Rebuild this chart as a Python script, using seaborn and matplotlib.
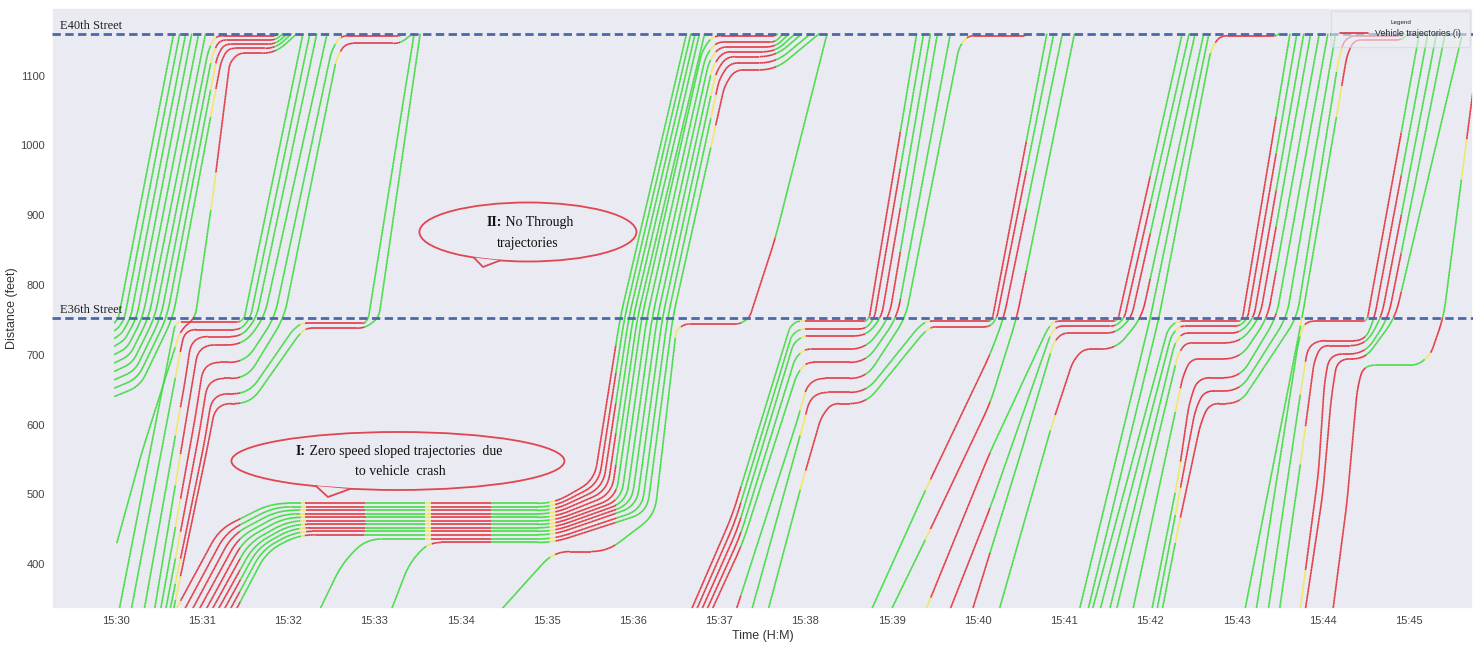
import numpy as np
import matplotlib
matplotlib.use("Agg")
import matplotlib.pyplot as plt
import seaborn as sns
from matplotlib.collections import LineCollection
from matplotlib.lines import Line2D
from matplotlib.patches import Ellipse, Polygon

# time is minutes after 15:30, distance in feet
E36 = 753
E40 = 1160

TIME_TICKS = list(range(16))
TIME_LABELS = ["15:30", "15:31", "15:32", "15:33", "15:34", "15:35", "15:36", "15:37",
               "15:38", "15:39", "15:40", "15:41", "15:42", "15:43", "15:44", "15:45"]
DIST_TICKS = [400, 500, 600, 700, 800, 900, 1000, 1100]

# signal phases (minutes after 15:30)
E36_GREEN = [-0.75, 1.44, 2.89, 4.35, 5.80, 7.25, 8.70, 10.14, 11.59, 13.04, 14.49]
E36_YELLOW = [0.69, 2.14, 3.59, 5.04, 6.49, 7.94, 9.39, 10.84, 12.29, 13.74, 15.19]
E40_GREEN = [-0.75, 1.85, 3.30, 4.75, 6.20, 7.65, 9.10, 10.56, 12.00, 13.46, 14.91]
E40_YELLOW = [1.10, 2.55, 4.00, 5.45, 6.90, 8.35, 9.81, 11.26, 12.70, 14.16, 15.61]
YELLOW_LEN = 0.06
# spots where the trajectories stay green whatever the signal (t0, t1, d0, d1)
GREEN_ZONES = [(2.30, 2.92, 330, 439), (11.10, 11.62, 330, 560),
               (1.40, 1.86, 753, 1125), (2.85, 3.31, 753, 1125), (5.75, 6.21, 753, 1125)]

# ── trajectories: corner points (t, d) ───────────────────────────────────────
FAN_1530 = [
    [(-0.02, 745), (0.03, 753), (0.67, 1160)],
    [(-0.02, 734), (0.04, 740), (0.10, 753), (0.74, 1160)],
    [(-0.02, 723), (0.07, 731), (0.17, 753), (0.81, 1160)],
    [(-0.02, 712), (0.10, 721), (0.24, 753), (0.88, 1160)],
    [(-0.02, 700), (0.13, 710), (0.31, 753), (0.96, 1160)],
    [(-0.02, 688), (0.16, 699), (0.38, 753), (1.04, 1160)],
    [(-0.02, 676), (0.19, 688), (0.45, 753), (1.07, 1135), (1.15, 1157), (1.85, 1157), (1.89, 1160)],
    [(-0.02, 664), (0.22, 677), (0.52, 753), (1.12, 1130), (1.20, 1151), (1.85, 1151), (1.94, 1160)],
    [(-0.02, 652), (0.25, 666), (0.59, 753), (1.17, 1125), (1.25, 1145), (1.85, 1145), (1.99, 1160)],
    [(-0.02, 640), (0.28, 655), (0.66, 753), (1.22, 1120), (1.30, 1139), (1.85, 1139), (2.04, 1160)],
    [(0.01, 430), (0.30, 560), (0.75, 735), (0.92, 753), (1.13, 932), (1.32, 1118), (1.42, 1132),
     (1.85, 1132), (2.10, 1160)],
]

QUEUE_1531 = [
    [(0.04, 336), (0.68, 740), (0.72, 747), (1.44, 747), (1.49, 753), (2.17, 1160)],
    [(0.18, 336), (0.74, 700), (0.80, 736), (1.45, 736), (1.56, 753), (2.25, 1160)],
    [(0.33, 336), (0.80, 660), (0.88, 726), (1.46, 726), (1.63, 753), (2.33, 1160)],
    [(0.45, 336), (0.86, 640), (0.96, 714), (1.48, 714), (1.72, 753), (2.45, 1160)],
    [(0.52, 336), (0.92, 610), (1.02, 689), (1.50, 689), (1.84, 753), (2.50, 1135), (2.60, 1157),
     (3.30, 1157), (3.36, 1160)],
    [(0.58, 336), (0.97, 590), (1.07, 666), (1.52, 666), (1.95, 753), (2.56, 1125), (2.66, 1146),
     (3.30, 1146), (3.44, 1160)],
    [(0.63, 336), (1.02, 570), (1.12, 644), (1.54, 644), (2.05, 735), (2.15, 745), (2.89, 745),
     (2.93, 753), (3.46, 1160)],
    [(0.67, 336), (1.05, 560), (1.16, 630), (1.56, 630), (2.12, 728), (2.21, 738), (2.89, 738),
     (3.05, 753), (3.53, 1160)],
]

CRASH = [
    [(0.70, 336), (1.20, 450), (1.80, 487), (5.08, 487), (5.55, 520), (5.85, 753), (6.62, 1160)],
    [(0.80, 336), (1.28, 446), (1.84, 482), (5.08, 482), (5.60, 515), (5.90, 753), (6.67, 1160)],
    [(0.89, 336), (1.35, 442), (1.88, 477), (5.08, 477), (5.65, 510), (5.95, 753), (6.72, 1160)],
    [(0.97, 336), (1.42, 438), (1.92, 472), (5.08, 472), (5.70, 505), (6.00, 753), (6.77, 1160)],
    [(1.05, 336), (1.48, 434), (1.96, 467), (5.08, 467), (5.75, 500), (6.05, 753), (6.83, 1160)],
    [(1.12, 336), (1.54, 430), (2.00, 462), (5.08, 462), (5.80, 495), (6.10, 753), (6.80, 1135),
     (6.92, 1157), (7.65, 1157), (7.68, 1160)],
    [(1.19, 336), (1.60, 427), (2.03, 457), (5.08, 457), (5.86, 492), (6.16, 753), (6.84, 1127),
     (6.96, 1148), (7.65, 1148), (7.74, 1160)],
    [(1.26, 336), (1.65, 424), (2.06, 452), (5.08, 452), (5.92, 489), (6.22, 753), (6.88, 1120),
     (7.00, 1141), (7.65, 1141), (7.81, 1160)],
    [(1.33, 336), (1.70, 421), (2.09, 447), (5.08, 447), (5.98, 486), (6.28, 753), (6.92, 1112),
     (7.04, 1134), (7.65, 1134), (7.88, 1160)],
    [(1.40, 336), (1.75, 418), (2.12, 442), (5.08, 442), (6.04, 483), (6.34, 753), (6.96, 1104),
     (7.08, 1127), (7.65, 1127), (7.96, 1160)],
    [(2.37, 336), (2.62, 400), (2.90, 436), (5.08, 436), (6.10, 478), (6.40, 753), (7.00, 1095),
     (7.12, 1118), (7.65, 1118), (8.06, 1160)],
    [(3.20, 336), (3.40, 400), (3.62, 431), (5.08, 431), (6.16, 474), (6.46, 753), (7.06, 1085),
     (7.18, 1108), (7.65, 1108), (8.16, 1160)],
    [(4.48, 336), (4.80, 380), (5.08, 418), (5.70, 418), (6.25, 470), (6.50, 735), (6.60, 744),
     (7.24, 744), (7.35, 753), (7.65, 867), (8.25, 1160)],
]

QUEUE_1538 = [
    [(6.68, 336), (7.15, 470), (7.82, 740), (7.90, 748), (8.70, 748), (8.74, 753), (9.29, 1160)],
    [(6.74, 336), (7.18, 460), (7.84, 728), (7.94, 737), (8.70, 737), (8.80, 753), (9.37, 1160)],
    [(6.80, 336), (7.21, 450), (7.86, 716), (7.97, 727), (8.70, 727), (8.88, 753), (9.45, 1160)],
    [(6.86, 336), (7.24, 440), (7.88, 695), (7.99, 708), (8.70, 708), (8.97, 753), (9.53, 1160)],
    [(6.92, 336), (7.27, 430), (7.90, 672), (8.01, 689), (8.70, 689), (9.06, 753), (9.68, 1160)],
    [(7.20, 336), (7.92, 612), (8.04, 666), (8.70, 666), (9.16, 753), (9.78, 1140), (9.88, 1157),
     (10.55, 1157), (10.58, 1160)],
    [(7.38, 336), (7.95, 590), (8.07, 646), (8.70, 646), (9.30, 738), (9.40, 748), (10.14, 748),
     (10.17, 753), (10.80, 1160)],
    [(7.57, 336), (7.95, 512), (8.18, 610), (8.30, 630), (8.70, 630), (9.36, 730), (9.46, 740),
     (10.14, 740), (10.22, 753), (10.88, 1160)],
]

DIAGONAL_1539 = [
    [(8.77, 336), (9.41, 511), (10.14, 700), (10.30, 753), (10.98, 1160)],
    [(9.00, 336), (9.41, 440), (10.14, 630), (10.45, 753), (11.12, 1160)],
]

QUEUE_1541 = [
    [(9.40, 336), (10.14, 560), (10.80, 735), (10.88, 748), (11.60, 748), (11.63, 753), (12.37, 1160)],
    [(9.68, 336), (10.14, 480), (10.84, 728), (10.92, 741), (11.60, 741), (11.70, 753), (12.45, 1160)],
    [(9.94, 336), (10.50, 560), (10.88, 718), (10.98, 731), (11.60, 731), (11.78, 753), (12.52, 1160)],
    [(10.25, 336), (10.86, 600), (11.10, 690), (11.22, 708), (11.60, 708), (11.90, 753), (12.62, 1160)],
]

BUNCH_1541 = [
    [(11.18, 336), (12.00, 753), (12.68, 1160)],
    [(11.28, 336), (12.10, 753), (12.70, 1135), (12.80, 1157), (13.46, 1157), (13.50, 1160)],
    [(11.33, 336), (12.20, 735), (12.30, 748), (13.04, 748), (13.07, 753), (13.62, 1160)],
    [(11.42, 336), (12.24, 726), (12.33, 741), (13.04, 741), (13.13, 753), (13.70, 1160)],
    [(11.53, 336), (12.28, 715), (12.37, 731), (13.04, 731), (13.20, 753), (13.78, 1160)],
    [(11.61, 336), (12.32, 700), (12.41, 717), (13.04, 717), (13.27, 753), (13.86, 1160)],
    [(11.80, 336), (12.38, 670), (12.47, 694), (13.04, 694), (13.36, 753), (13.96, 1160)],
    [(12.02, 336), (12.32, 522), (12.45, 630), (12.55, 667), (13.04, 667), (13.46, 753), (14.06, 1160)],
    [(12.08, 336), (12.32, 490), (12.52, 620), (12.62, 648), (13.04, 648), (13.58, 753), (14.15, 1160)],
    [(12.14, 336), (12.32, 450), (12.58, 600), (12.68, 630), (13.04, 630), (13.70, 753), (14.18, 1120),
     (14.26, 1157), (14.91, 1157), (14.95, 1160)],
]

QUEUE_1544 = [
    [(13.10, 336), (13.76, 753), (14.28, 1128), (14.36, 1151), (14.91, 1151), (15.00, 1160)],
    [(13.23, 336), (13.72, 720), (13.79, 748), (14.49, 748), (14.52, 753), (15.12, 1160)],
    [(13.37, 336), (13.76, 660), (13.84, 720), (14.49, 720), (14.60, 753), (15.22, 1160)],
    [(13.50, 336), (13.76, 560), (13.90, 690), (13.98, 713), (14.49, 713), (14.68, 753), (15.32, 1160)],
    [(13.74, 336), (13.95, 530), (14.02, 660), (14.08, 701), (14.49, 701), (14.76, 753), (15.42, 1160)],
    [(13.80, 336), (14.00, 500), (14.10, 640), (14.17, 694), (14.49, 694), (14.84, 753), (15.62, 1160)],
    [(14.12, 336), (14.28, 487), (14.40, 650), (14.47, 685), (15.10, 685), (15.25, 700), (15.40, 753),
     (15.74, 1075)],
]

ALL_TRAJECTORIES = (FAN_1530 + QUEUE_1531 + CRASH + QUEUE_1538 + DIAGONAL_1539
                    + QUEUE_1541 + BUNCH_1541 + QUEUE_1544)

GREEN, RED, YELLOW = "#3fdc3f", "#e2343e", "#f1e85a"
BG = "#eaeaf2"

sns.set_theme(style="dark", rc={"axes.facecolor": BG})
plt.rcParams["font.family"] = ["Liberation Sans", "DejaVu Sans"]

# pixel scale of the axes, used only to round the corners evenly
PX = np.array([86.2, 0.698])


def rounded(pts, r=16.0):
    p = np.asarray(pts, float) * PX
    out = [p[0]]
    for a, b, c in zip(p[:-2], p[1:-1], p[2:]):
        u, w = a - b, c - b
        lu, lw = np.hypot(*u), np.hypot(*w)
        rr = min(r, 0.45 * lu, 0.45 * lw)
        p0, p2 = b + u / lu * rr, b + w / lw * rr
        s = np.linspace(0, 1, 9)[:, None]
        out.extend((1 - s) ** 2 * p0 + 2 * (1 - s) * s * b + s ** 2 * p2)
    out.append(p[-1])
    out = np.array(out)
    dense = [out[0]]
    for a, b in zip(out[:-1], out[1:]):
        n = max(1, int(np.hypot(*(b - a)) / 1.5))
        s = np.linspace(0, 1, n + 1)[1:, None]
        dense.extend(a + (b - a) * s)
    return np.array(dense) / PX


def signal(t, green, yellow):
    g = max((x for x in green if x <= t), default=-99)
    y = max((x for x in yellow if x <= t), default=-99)
    if g >= y:
        return GREEN
    return YELLOW if t - y < YELLOW_LEN else RED


def colour(t, d):
    for t0, t1, d0, d1 in GREEN_ZONES:
        if t0 <= t <= t1 and d0 <= d <= d1:
            return GREEN
    if d < E36:
        return signal(t, E36_GREEN, E36_YELLOW)
    return signal(t, E40_GREEN, E40_YELLOW)


fig = plt.figure(figsize=(14.8, 6.46), dpi=100)
ax = fig.add_axes([0.0351, 0.0573, 0.9601, 0.9303])

segs, cols = [], []
for traj in ALL_TRAJECTORIES:
    xy = rounded(traj)
    for a, b in zip(xy[:-1], xy[1:]):
        segs.append([a, b])
        m = (a + b) / 2
        cols.append(colour(m[0], m[1]))
ax.add_collection(LineCollection(segs, colors=cols, linewidths=1.15, capstyle="butt", zorder=2))

for y in (E40, E36):
    ax.axhline(y, color="#4a69a8", lw=2, dashes=(3, 1.6), zorder=3)
ax.text(-0.65, 1171, "E40th Street", family="Liberation Serif", fontsize=9, color="#222", va="center")
ax.text(-0.65, 764, "E36th Street", family="Liberation Serif", fontsize=9, color="#222", va="center")

ax.set_xlim(-0.742, 15.742)
ax.set_ylim(335.7, 1196.7)
ax.set_xticks(TIME_TICKS)
ax.set_xticklabels(TIME_LABELS)
ax.set_yticks(DIST_TICKS)
ax.tick_params(axis="x", length=3, width=0.8, color="#666", labelsize=8, labelcolor="#444", pad=2)
ax.tick_params(axis="y", length=0, labelsize=8, labelcolor="#444", pad=5)
ax.set_xlabel("Time (H:M)", fontsize=9, color="#333", labelpad=3)
ax.set_ylabel("Distance (feet)", fontsize=9, color="#333", labelpad=2)


# speech bubbles (pixel positions converted to axes fractions)
def axf(X, Y):
    return ((X - 52) / 1421, (609 - Y) / 601)


def bubble(cx, cy, w, h, a, tip, b):
    ax.add_patch(Ellipse(axf(cx, cy), w / 1421, h / 601, transform=ax.transAxes,
                         facecolor=BG, edgecolor="#e0464f", lw=1.3, zorder=5))
    pts = [axf(*a), axf(*tip), axf(*b)]
    ax.add_patch(Polygon(pts, closed=True, transform=ax.transAxes, facecolor=BG,
                         edgecolor="none", zorder=6))
    ax.add_line(Line2D([p[0] for p in pts], [p[1] for p in pts], transform=ax.transAxes,
                       color="#e0464f", lw=1.3, zorder=6))


bubble(528, 232, 217, 59, (474, 257.6), (483, 267), (500, 260.5))
bubble(398, 461, 333, 58, (316, 486), (328, 497), (350, 489))

serif = dict(family="Liberation Serif", fontsize=10, color="#111", zorder=7)
t1 = ax.text(*axf(487, 222), "II:", transform=ax.transAxes, va="center", weight="bold", **serif)
ax.annotate(" No Through", xy=(1, 0), xycoords=t1, va="bottom", ha="left", **serif)
ax.text(*axf(528, 243), "trajectories", transform=ax.transAxes, va="center", ha="center", **serif)
t2 = ax.text(*axf(296, 452), "I:", transform=ax.transAxes, va="center", weight="bold", **serif)
ax.annotate(" Zero speed sloped trajectories  due", xy=(1, 0), xycoords=t2, va="bottom",
            ha="left", **serif)
ax.text(*axf(400, 472), "to vehicle  crash", transform=ax.transAxes, va="center", ha="center", **serif)

leg = ax.legend([Line2D([], [], color=RED, lw=1.2)], ["Vehicle trajectories (i)"], title="Legend",
                loc="upper right", fontsize=6.4, title_fontsize=4.5, handlelength=3.2,
                borderpad=1.0, borderaxespad=0.3, frameon=True, framealpha=0.6)
leg.get_frame().set_facecolor("#efeff4")
leg.get_frame().set_edgecolor("#d4d4dc")
leg.set_zorder(8)

fig.savefig("out.png", dpi=100, facecolor="white")
